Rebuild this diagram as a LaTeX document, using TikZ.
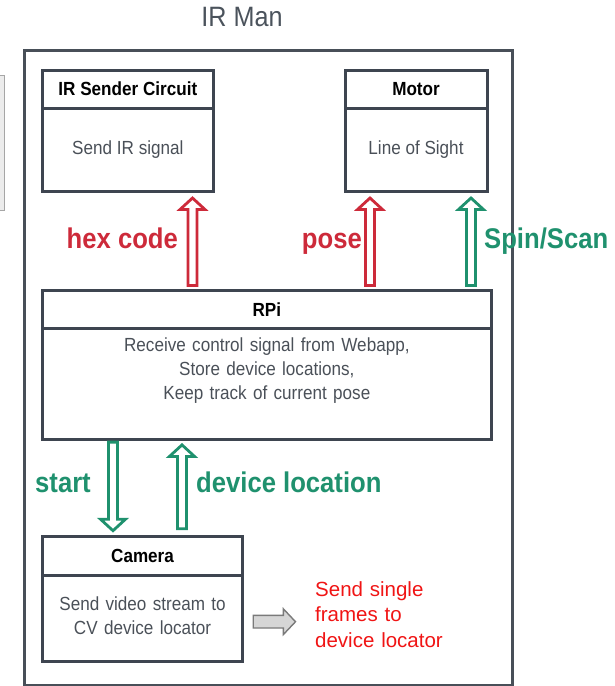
\documentclass[tikz,border=0pt]{standalone}
\usepackage{fontspec}
\setmainfont[FakeStretch=0.9]{Liberation Sans}
\newfontfamily\notefont{Liberation Sans}
\usetikzlibrary{calc}

\definecolor{boxline}{RGB}{62,69,80}
\definecolor{frameline}{RGB}{72,79,88}
\definecolor{bodytext}{RGB}{74,80,88}
\definecolor{titlegray}{RGB}{75,83,92}
\definecolor{sigred}{RGB}{205,42,58}
\definecolor{siggreen}{RGB}{31,145,110}
\definecolor{notered}{RGB}{240,20,20}
\definecolor{grayfill}{RGB}{214,214,214}
\definecolor{grayline}{RGB}{122,122,122}

% block arrow geometry (half shaft width, half head width, head length, end gaps)
\def\arrShaft{4.5pt}
\def\arrHeadW{12.5pt}
\def\arrHeadL{11.5pt}
\def\arrSGap{4.5pt}
\def\arrTGap{6.3pt}

\tikzset{
  shaft/.code={\def\arrShaft{#1}},
  headw/.code={\def\arrHeadW{#1}},
  headl/.code={\def\arrHeadL{#1}},
  sgap/.code={\def\arrSGap{#1}},
  tgap/.code={\def\arrTGap{#1}},
  blockarrow/.style={line width=2.8pt, line join=miter, miter limit=10, fill=white,
    to path={
      ($(\tikztostart)!\arrSGap!(\tikztotarget)!\arrShaft!90:(\tikztotarget)$)
      -- ($(\tikztotarget)!\arrTGap!(\tikztostart)!\arrHeadL!(\tikztostart)!\arrShaft!90:(\tikztotarget)$)
      -- ($(\tikztotarget)!\arrTGap!(\tikztostart)!\arrHeadL!(\tikztostart)!\arrHeadW!90:(\tikztotarget)$)
      -- ($(\tikztotarget)!\arrTGap!(\tikztostart)$)
      -- ($(\tikztotarget)!\arrTGap!(\tikztostart)!\arrHeadL!(\tikztostart)!\arrHeadW!-90:(\tikztotarget)$)
      -- ($(\tikztotarget)!\arrTGap!(\tikztostart)!\arrHeadL!(\tikztostart)!\arrShaft!-90:(\tikztotarget)$)
      -- ($(\tikztostart)!\arrSGap!(\tikztotarget)!\arrShaft!-90:(\tikztotarget)$)
      -- cycle}},
  redarrow/.style={blockarrow, draw=sigred},
  greenarrow/.style={blockarrow, draw=siggreen},
  box/.style={draw=boxline, line width=3pt, rectangle, inner sep=0pt, outer sep=0pt},
  headbox/.style={box, minimum height=38pt, text=black,
    font=\fontsize{19}{24}\selectfont\bfseries},
  bodybox/.style={box, text=bodytext, font=\fontsize{19}{24}\selectfont},
  bodylines/.style={text=bodytext, font=\fontsize{19}{24}\selectfont, align=center, inner sep=0pt},
  siglabel/.style={font=\fontsize{28.5}{30}\selectfont\bfseries, inner sep=0pt},
}

\begin{document}
\begin{tikzpicture}[x=1pt, y=-1pt]
\useasboundingbox (0,0) rectangle (614,686);

% edge of a neighbouring panel, cut off at the left
\draw[draw=gray!70, fill=gray!15, line width=1pt] (-10,75) rectangle (4,210);

% title and enclosing frame
\node[anchor=base, text=titlegray, font=\fontsize{28}{30}\selectfont, inner sep=0pt] (title) at (242,26.7) {IR Man};
\node[draw=frameline, line width=3pt, rectangle, inner sep=0pt, outer sep=0pt,
      minimum width=487.7pt, minimum height=634.3pt, anchor=north west] (frame) at (24.3,50.7) {};

% IR sender circuit
\node[headbox, minimum width=171.1pt, anchor=north west] (irh) at (42.3,70) {IR Sender Circuit};
\node[bodybox, minimum width=171.1pt, minimum height=83.7pt, anchor=north] (irb) at (irh.south) {Send IR signal};

% motor
\node[headbox, minimum width=142pt, anchor=north west] (moth) at (345,70) {Motor};
\node[bodybox, minimum width=142pt, minimum height=83.7pt, anchor=north] (motb) at (moth.south) {Line of Sight};

% Raspberry Pi
\node[headbox, minimum width=449.1pt, minimum height=38.3pt, anchor=north west] (rpih) at (42.3,290) {RPi};
\node[bodybox, minimum width=449.1pt, minimum height=111pt, anchor=north] (rpib) at (rpih.south) {};
\node[bodylines, anchor=base, text width=440pt] (rpit) at (266.85,351.5)
  {Receive control signal from Webapp,\\Store device locations,\\Keep track of current pose};

% camera
\node[headbox, minimum width=200.5pt, minimum height=39pt, anchor=north west] (camh) at (42.3,536.7) {Camera};
\node[bodybox, minimum width=200.5pt, minimum height=86pt, anchor=north] (camb) at (camh.south) {};
\node[bodylines, anchor=base, text width=195pt] (camt) at (142.55,610.8)
  {Send video stream to\\CV device locator};

% arrow columns
\coordinate (xhex) at (192.5,0);
\coordinate (xpose) at (370,0);
\coordinate (xspin) at (471,0);
\coordinate (xstart) at (113,0);
\coordinate (xloc) at (182,0);

% RPi -> IR sender / motor
\draw[redarrow] (rpih.north -| xhex) to (irb.south -| xhex);
\draw[redarrow] (rpih.north -| xpose) to (motb.south -| xpose);
\draw[greenarrow] (rpih.north -| xspin) to (motb.south -| xspin);

% RPi <-> camera
\draw[greenarrow, sgap=2.8pt, tgap=6pt] (rpib.south -| xstart) to (camh.north -| xstart);
\draw[greenarrow, sgap=8pt, tgap=5.6pt] (camh.north -| xloc) to (rpib.south -| xloc);

% signal labels
\node[siglabel, text=sigred, anchor=base west] (lhex) at (66.5,248) {hex code};
\node[siglabel, text=sigred, anchor=base east] (lpose) at (362,248) {pose};
\node[siglabel, text=siggreen, anchor=base west] (lspin) at (484,248) {Spin/Scan};
\node[siglabel, text=siggreen, anchor=base west] (lstart) at (35,492) {start};
\node[siglabel, text=siggreen, anchor=base west] (lloc) at (196,492) {device location};

% frames handed on to the locator
\coordinate (gt) at (297,621.7);
\draw[blockarrow, draw=grayline, fill=grayfill, line width=1.4pt,
      shaft=6.3pt, headw=12.8pt, headl=12.1pt, sgap=10.4pt, tgap=1.5pt]
  ([yshift=-3pt]camb.east) to (gt);
\node[anchor=base west, text width=200pt, align=left, inner sep=0pt, text=notered,
      font=\notefont\fontsize{20.5}{25.8}\selectfont] (note) at (315,596)
  {Send single\\frames to\\device locator};
\end{tikzpicture}
\end{document}
